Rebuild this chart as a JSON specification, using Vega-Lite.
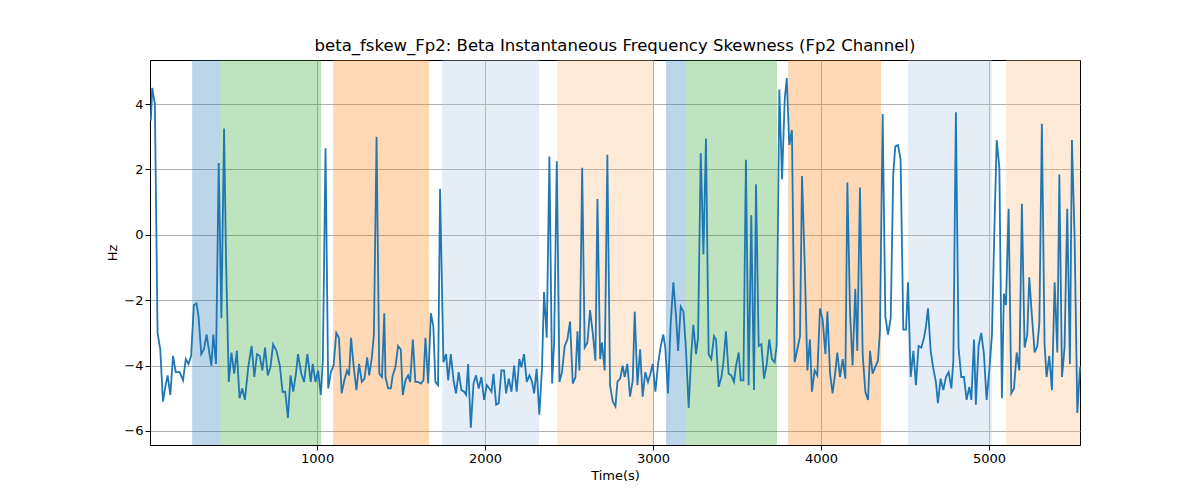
{
  "$schema": "https://vega.github.io/schema/vega-lite/v6.json",
  "width": 930,
  "height": 385,
  "autosize": {"type": "none"},
  "padding": {"left": 150, "top": 60, "right": 120, "bottom": 55},
  "background": "white",
  "config": {
    "font": "DejaVu Sans",
    "view": {"stroke": "black", "strokeWidth": 1},
    "axis": {"labelFontSize": 13, "titleFontSize": 13, "labelColor": "black", "titleColor": "black", "tickColor": "black", "domainColor": "black", "gridColor": "#b0b0b0", "gridWidth": 1, "titleFontWeight": "normal", "format": "d"}
  },
  "title": {"text": "beta_fskew_Fp2: Beta Instantaneous Frequency Skewness (Fp2 Channel)", "fontSize": 16.5, "fontWeight": "normal", "offset": 6},
  "datasets": {
    "bands": [
      {"start": 256, "end": 423, "kind": "a"},
      {"start": 423, "end": 1024, "kind": "b"},
      {"start": 1095, "end": 1667, "kind": "c"},
      {"start": 1744, "end": 2321, "kind": "d"},
      {"start": 2429, "end": 3000, "kind": "e"},
      {"start": 3077, "end": 3196, "kind": "a"},
      {"start": 3196, "end": 3738, "kind": "b"},
      {"start": 3804, "end": 4357, "kind": "c"},
      {"start": 4518, "end": 5018, "kind": "d"},
      {"start": 5101, "end": 5542, "kind": "e"}
    ],
    "series": [
      {"t":10,"v":3.5},{"t":18,"v":4.5},{"t":34,"v":4.0},{"t":50,"v":-3.0},{"t":66,"v":-3.5},{"t":82,"v":-5.1},{"t":98,"v":-4.6},{"t":110,"v":-4.3},{"t":126,"v":-4.9},{"t":142,"v":-3.7},{"t":158,"v":-4.2},{"t":182,"v":-4.2},{"t":202,"v":-4.45},{"t":218,"v":-3.8},{"t":234,"v":-3.95},{"t":250,"v":-3.7},{"t":266,"v":-2.15},{"t":282,"v":-2.1},{"t":294,"v":-2.5},{"t":310,"v":-3.65},{"t":326,"v":-3.5},{"t":342,"v":-3.05},{"t":358,"v":-3.6},{"t":370,"v":-4.0},{"t":382,"v":-3.05},{"t":398,"v":-3.95},{"t":414,"v":2.2},{"t":430,"v":-2.55},{"t":446,"v":3.25},{"t":458,"v":-0.8},{"t":474,"v":-4.5},{"t":490,"v":-3.6},{"t":506,"v":-4.25},{"t":522,"v":-3.55},{"t":538,"v":-5.0},{"t":554,"v":-4.7},{"t":570,"v":-5.05},{"t":590,"v":-4.05},{"t":610,"v":-3.4},{"t":626,"v":-4.35},{"t":642,"v":-3.65},{"t":658,"v":-3.7},{"t":674,"v":-4.15},{"t":690,"v":-3.45},{"t":706,"v":-4.3},{"t":722,"v":-4.05},{"t":738,"v":-3.35},{"t":758,"v":-3.55},{"t":778,"v":-4.0},{"t":794,"v":-4.8},{"t":810,"v":-4.8},{"t":826,"v":-5.6},{"t":842,"v":-4.3},{"t":858,"v":-4.8},{"t":874,"v":-4.25},{"t":886,"v":-3.65},{"t":906,"v":-4.25},{"t":922,"v":-4.5},{"t":942,"v":-3.65},{"t":962,"v":-4.5},{"t":974,"v":-3.95},{"t":990,"v":-4.5},{"t":1006,"v":-4.15},{"t":1022,"v":-4.9},{"t":1034,"v":-3.85},{"t":1050,"v":2.65},{"t":1066,"v":-4.7},{"t":1082,"v":-4.2},{"t":1098,"v":-4.0},{"t":1114,"v":-3.0},{"t":1130,"v":-3.15},{"t":1146,"v":-4.85},{"t":1162,"v":-4.45},{"t":1178,"v":-4.15},{"t":1190,"v":-4.3},{"t":1202,"v":-3.15},{"t":1218,"v":-4.05},{"t":1234,"v":-4.75},{"t":1250,"v":-3.95},{"t":1266,"v":-4.5},{"t":1282,"v":-4.4},{"t":1298,"v":-3.75},{"t":1310,"v":-4.3},{"t":1326,"v":-3.75},{"t":1338,"v":-3.05},{"t":1354,"v":3.0},{"t":1370,"v":-4.25},{"t":1386,"v":-4.35},{"t":1400,"v":-2.4},{"t":1407,"v":-4.35},{"t":1423,"v":-4.7},{"t":1439,"v":-4.7},{"t":1450,"v":-4.3},{"t":1466,"v":-4.05},{"t":1482,"v":-3.4},{"t":1498,"v":-3.5},{"t":1510,"v":-4.9},{"t":1526,"v":-4.45},{"t":1542,"v":-4.3},{"t":1554,"v":-4.5},{"t":1570,"v":-3.2},{"t":1585,"v":-4.5},{"t":1601,"v":-4.5},{"t":1617,"v":-4.55},{"t":1633,"v":-4.45},{"t":1645,"v":-3.15},{"t":1661,"v":-4.55},{"t":1677,"v":-2.4},{"t":1692,"v":-2.8},{"t":1704,"v":-4.5},{"t":1720,"v":-4.6},{"t":1732,"v":1.4},{"t":1752,"v":-3.9},{"t":1768,"v":-3.65},{"t":1780,"v":-4.45},{"t":1796,"v":-3.65},{"t":1812,"v":-4.45},{"t":1827,"v":-4.85},{"t":1843,"v":-4.2},{"t":1859,"v":-4.75},{"t":1875,"v":-4.8},{"t":1887,"v":-4.9},{"t":1899,"v":-3.95},{"t":1915,"v":-5.9},{"t":1931,"v":-4.55},{"t":1946,"v":-4.3},{"t":1962,"v":-4.7},{"t":1978,"v":-4.35},{"t":1994,"v":-5.05},{"t":2010,"v":-4.6},{"t":2026,"v":-4.7},{"t":2038,"v":-4.8},{"t":2050,"v":-4.25},{"t":2066,"v":-5.2},{"t":2081,"v":-5.15},{"t":2097,"v":-4.15},{"t":2113,"v":-4.15},{"t":2125,"v":-4.85},{"t":2141,"v":-4.4},{"t":2157,"v":-4.8},{"t":2173,"v":-4.0},{"t":2188,"v":-4.8},{"t":2204,"v":-3.8},{"t":2216,"v":-4.05},{"t":2232,"v":-3.65},{"t":2248,"v":-4.5},{"t":2264,"v":-4.3},{"t":2280,"v":-4.5},{"t":2292,"v":-4.85},{"t":2307,"v":-4.1},{"t":2323,"v":-5.5},{"t":2339,"v":-4.05},{"t":2351,"v":-1.75},{"t":2367,"v":-3.15},{"t":2383,"v":2.4},{"t":2399,"v":-4.55},{"t":2411,"v":-3.3},{"t":2427,"v":2.25},{"t":2443,"v":-4.5},{"t":2458,"v":-4.2},{"t":2474,"v":-3.4},{"t":2490,"v":-3.2},{"t":2506,"v":-2.65},{"t":2522,"v":-4.55},{"t":2538,"v":-4.35},{"t":2550,"v":-2.95},{"t":2562,"v":-4.15},{"t":2578,"v":2.05},{"t":2593,"v":-3.45},{"t":2609,"v":-3.3},{"t":2625,"v":-2.3},{"t":2641,"v":-3.0},{"t":2657,"v":-3.85},{"t":2669,"v":1.1},{"t":2685,"v":-3.8},{"t":2696,"v":-3.3},{"t":2712,"v":-4.15},{"t":2728,"v":2.45},{"t":2744,"v":-4.6},{"t":2760,"v":-5.1},{"t":2776,"v":-5.25},{"t":2788,"v":-4.5},{"t":2804,"v":-4.4},{"t":2819,"v":-4.0},{"t":2831,"v":-4.35},{"t":2847,"v":-3.95},{"t":2863,"v":-4.95},{"t":2879,"v":-4.45},{"t":2891,"v":-2.35},{"t":2907,"v":-4.6},{"t":2923,"v":-3.5},{"t":2938,"v":-4.95},{"t":2954,"v":-4.2},{"t":2970,"v":-4.5},{"t":2982,"v":-4.3},{"t":2998,"v":-3.95},{"t":3014,"v":-4.8},{"t":3030,"v":-3.95},{"t":3046,"v":-3.4},{"t":3061,"v":-3.05},{"t":3073,"v":-3.45},{"t":3089,"v":-4.85},{"t":3105,"v":-2.7},{"t":3121,"v":-1.45},{"t":3137,"v":-2.5},{"t":3149,"v":-3.55},{"t":3165,"v":-2.2},{"t":3181,"v":-2.35},{"t":3196,"v":-3.5},{"t":3212,"v":-5.3},{"t":3228,"v":-3.6},{"t":3240,"v":-2.75},{"t":3256,"v":-3.65},{"t":3268,"v":-3.15},{"t":3284,"v":2.5},{"t":3300,"v":-0.6},{"t":3315,"v":2.95},{"t":3331,"v":-3.65},{"t":3347,"v":-3.8},{"t":3363,"v":-3.1},{"t":3375,"v":-3.2},{"t":3391,"v":-4.65},{"t":3407,"v":-4.35},{"t":3419,"v":-3.9},{"t":3434,"v":-2.95},{"t":3450,"v":-4.25},{"t":3466,"v":-4.3},{"t":3482,"v":-4.5},{"t":3494,"v":-4.0},{"t":3510,"v":-3.6},{"t":3522,"v":-4.45},{"t":3538,"v":-4.45},{"t":3553,"v":2.3},{"t":3569,"v":-4.6},{"t":3585,"v":0.6},{"t":3601,"v":-4.75},{"t":3613,"v":1.55},{"t":3629,"v":-3.4},{"t":3645,"v":-3.35},{"t":3661,"v":-4.4},{"t":3677,"v":-3.95},{"t":3692,"v":-3.2},{"t":3708,"v":-3.8},{"t":3724,"v":-3.9},{"t":3736,"v":-3.4},{"t":3752,"v":4.45},{"t":3768,"v":1.7},{"t":3784,"v":4.15},{"t":3796,"v":4.8},{"t":3811,"v":2.75},{"t":3827,"v":3.2},{"t":3843,"v":-3.9},{"t":3859,"v":-3.5},{"t":3875,"v":-3.1},{"t":3887,"v":1.8},{"t":3903,"v":-0.9},{"t":3919,"v":-4.15},{"t":3934,"v":-3.2},{"t":3946,"v":-4.8},{"t":3962,"v":-4.15},{"t":3978,"v":-4.3},{"t":3994,"v":-2.25},{"t":4010,"v":-2.6},{"t":4026,"v":-3.65},{"t":4038,"v":-2.35},{"t":4054,"v":-4.25},{"t":4069,"v":-4.85},{"t":4085,"v":-4.2},{"t":4097,"v":-3.6},{"t":4113,"v":-4.35},{"t":4129,"v":-3.8},{"t":4145,"v":-4.4},{"t":4157,"v":1.6},{"t":4173,"v":-2.4},{"t":4188,"v":-4.0},{"t":4204,"v":-1.65},{"t":4216,"v":-3.55},{"t":4232,"v":1.45},{"t":4248,"v":-3.65},{"t":4264,"v":-4.8},{"t":4280,"v":-5.05},{"t":4292,"v":-3.55},{"t":4307,"v":-4.25},{"t":4323,"v":-4.05},{"t":4339,"v":-3.85},{"t":4351,"v":-2.95},{"t":4367,"v":3.7},{"t":4383,"v":-2.5},{"t":4399,"v":-3.05},{"t":4415,"v":-2.55},{"t":4430,"v":1.85},{"t":4442,"v":2.7},{"t":4458,"v":2.75},{"t":4474,"v":2.3},{"t":4490,"v":-2.9},{"t":4506,"v":-2.9},{"t":4518,"v":-1.45},{"t":4534,"v":-4.35},{"t":4550,"v":-3.55},{"t":4565,"v":-4.6},{"t":4581,"v":-3.4},{"t":4597,"v":-3.45},{"t":4613,"v":-3.15},{"t":4625,"v":-2.8},{"t":4637,"v":-2.25},{"t":4653,"v":-3.55},{"t":4669,"v":-4.1},{"t":4684,"v":-4.5},{"t":4696,"v":-5.15},{"t":4712,"v":-4.4},{"t":4728,"v":-4.75},{"t":4744,"v":-4.35},{"t":4760,"v":-4.2},{"t":4776,"v":-4.7},{"t":4788,"v":-3.85},{"t":4803,"v":3.75},{"t":4819,"v":-3.45},{"t":4835,"v":-4.35},{"t":4851,"v":-4.35},{"t":4867,"v":-5.05},{"t":4883,"v":-4.65},{"t":4895,"v":-5.05},{"t":4911,"v":-3.2},{"t":4922,"v":-5.2},{"t":4938,"v":-3.4},{"t":4954,"v":-3.0},{"t":4970,"v":-3.65},{"t":4986,"v":-5.05},{"t":5002,"v":-4.15},{"t":5018,"v":-3.05},{"t":5030,"v":-0.3},{"t":5046,"v":2.9},{"t":5062,"v":2.05},{"t":5077,"v":-5.0},{"t":5089,"v":-1.8},{"t":5101,"v":-2.15},{"t":5117,"v":0.8},{"t":5133,"v":-4.85},{"t":5149,"v":-4.7},{"t":5165,"v":-3.6},{"t":5181,"v":-4.15},{"t":5196,"v":0.95},{"t":5212,"v":-3.45},{"t":5228,"v":-3.05},{"t":5240,"v":-1.3},{"t":5256,"v":-2.5},{"t":5272,"v":-3.6},{"t":5288,"v":-3.4},{"t":5300,"v":-2.7},{"t":5315,"v":3.4},{"t":5331,"v":-3.35},{"t":5343,"v":-4.35},{"t":5359,"v":-3.7},{"t":5375,"v":-4.75},{"t":5391,"v":-1.45},{"t":5407,"v":-3.6},{"t":5419,"v":1.85},{"t":5435,"v":-4.35},{"t":5450,"v":-3.45},{"t":5466,"v":0.8},{"t":5482,"v":-3.95},{"t":5494,"v":2.9},{"t":5510,"v":-0.1},{"t":5526,"v":-5.45},{"t":5542,"v":-4.05}
    ]
  },
  "layer": [
    {
      "data": {"name": "bands"},
      "mark": {"type": "rect", "opacity": 0.3},
      "encoding": {
        "x": {"field": "start", "type": "quantitative", "scale": {"domain": [5, 5542], "nice": false, "zero": false}, "axis": {"values": [1000, 2000, 3000, 4000, 5000], "title": "Time(s)", "grid": true}},
        "x2": {"field": "end"},
        "color": {"field": "kind", "type": "nominal", "legend": null, "scale": {"domain": ["a", "b", "c", "d", "e"], "range": ["#1f77b4", "#2ca02c", "#ff7f0e", "#a8c4e4", "#feb679"]}}
      }
    },
    {
      "data": {"name": "series"},
      "mark": {"type": "line", "color": "#1f77b4", "strokeWidth": 1.8},
      "encoding": {
        "x": {"field": "t", "type": "quantitative"},
        "y": {"field": "v", "type": "quantitative", "scale": {"domain": [-6.43, 5.35], "nice": false}, "axis": {"values": [-6, -4, -2, 0, 2, 4], "title": "Hz", "grid": true}}
      }
    }
  ]
}
